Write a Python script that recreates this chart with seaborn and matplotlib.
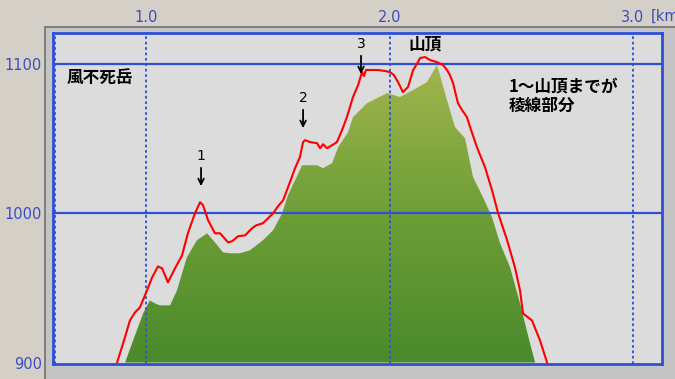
import numpy as np
import pandas as pd
import matplotlib
matplotlib.use("Agg")
import matplotlib.pyplot as plt
import seaborn as sns
from matplotlib.patches import Rectangle, Polygon
from matplotlib.colors import LinearSegmentedColormap

# ---- data (distance km, elevation m) ----
route_km = [0.881, 0.906, 0.934, 0.955, 0.975, 1.004, 1.025, 1.049, 1.066, 1.090,
            1.119, 1.148, 1.172, 1.201, 1.222, 1.234, 1.255, 1.283, 1.304, 1.337,
            1.353, 1.378, 1.407, 1.435, 1.452, 1.480, 1.501, 1.522, 1.542, 1.563,
            1.591, 1.612, 1.632, 1.645, 1.653, 1.674, 1.702, 1.715, 1.727, 1.743,
            1.764, 1.784, 1.805, 1.825, 1.850, 1.871, 1.887, 1.895, 1.903, 1.920,
            1.953, 1.982, 2.002, 2.018, 2.035, 2.055, 2.076, 2.097, 2.117, 2.125,
            2.146, 2.166, 2.195, 2.220, 2.236, 2.248, 2.261, 2.281, 2.298, 2.318,
            2.331, 2.359, 2.392, 2.421, 2.446, 2.483, 2.515, 2.536, 2.548, 2.585,
            2.618, 2.647]
route_m = [900.0, 912.8, 928.2, 933.6, 936.9, 948.3, 957.0, 964.4, 963.1, 953.7,
           963.1, 971.8, 986.6, 1000.0, 1007.4, 1005.4, 995.3, 986.6, 986.6, 980.5,
           981.2, 984.6, 985.2, 989.9, 991.9, 993.3, 996.6, 1000.0, 1004.7, 1008.7,
           1020.8, 1030.2, 1037.6, 1047.7, 1049.0, 1047.7, 1047.0, 1043.6, 1046.3, 1043.6,
           1045.6, 1047.7, 1055.7, 1064.4, 1077.9, 1085.9, 1094.6, 1091.9, 1096.0, 1096.0,
           1096.0, 1095.3, 1094.6, 1092.6, 1087.9, 1081.2, 1084.6, 1096.0, 1101.3, 1104.0,
           1104.7, 1102.7, 1101.3, 1099.3, 1096.0, 1092.6, 1087.2, 1073.8, 1069.1, 1064.4,
           1057.7, 1044.3, 1030.9, 1015.4, 1000.0, 981.9, 963.8, 948.3, 932.9, 928.2,
           914.8, 900.0]

terrain_km = [0.914, 0.947, 0.988, 1.016, 1.037, 1.057, 1.099, 1.127, 1.168, 1.209,
              1.251, 1.283, 1.316, 1.345, 1.386, 1.427, 1.480, 1.522, 1.559, 1.583,
              1.612, 1.641, 1.674, 1.702, 1.727, 1.764, 1.789, 1.830, 1.850, 1.908,
              1.949, 1.990, 2.043, 2.097, 2.154, 2.195, 2.207, 2.236, 2.269, 2.310,
              2.343, 2.384, 2.421, 2.454, 2.495, 2.536, 2.577, 2.598]
terrain_m = [900.0, 914.8, 932.9, 941.6, 939.6, 938.3, 938.3, 948.3, 970.5, 981.9,
             986.6, 980.5, 973.8, 973.2, 973.2, 975.2, 981.9, 988.6, 1000.0, 1012.1,
             1022.1, 1032.2, 1032.2, 1032.2, 1030.2, 1033.6, 1044.3, 1054.4, 1064.4, 1073.8,
             1077.2, 1080.5, 1077.9, 1082.6, 1087.9, 1099.3, 1092.6, 1075.8, 1057.7, 1050.3,
             1024.2, 1010.7, 997.3, 979.9, 963.8, 939.6, 912.8, 900.0]

x_ticks = [1.0, 2.0, 3.0]
x_tick_labels = ["1.0", "2.0", "3.0"]
y_ticks = [900, 1000, 1100]
y_tick_labels = ["900", "1000", "1100"]

markers = ["1", "2", "3"]
marker_km = [1.226, 1.645, 1.883]
marker_m = [1038.3, 1077.2, 1113.4]

# ---- style ----
sns.set_style("white")
plt.rcParams["font.family"] = ["Noto Sans CJK JP", "DejaVu Sans"]
plt.rcParams["text.color"] = "black"

BLUE = "#2f4fd6"
TICKBLUE = "#3a4cc4"
fig = plt.figure(figsize=(6.75, 3.79), dpi=100, facecolor="#d4d0c8")

# raised panel behind plot
W, H = 675.0, 379.0
fig.patches.append(Rectangle((45 / W, 0), 1 - 45 / W, 1 - 27 / H, transform=fig.transFigure,
                             facecolor="#c4c4c4", edgecolor="none", zorder=-2))
fig.lines.append(plt.Line2D([45 / W, 45 / W], [0, 1 - 27 / H], transform=fig.transFigure,
                            color="#707070", lw=1.2, zorder=-1))
fig.lines.append(plt.Line2D([45 / W, 1], [1 - 27 / H, 1 - 27 / H], transform=fig.transFigure,
                            color="#707070", lw=1.2, zorder=-1))

ax = fig.add_axes([53 / W, 15 / H, 609 / W, 331 / H])
ax.set_zorder(1)
ax.set_facecolor("#dcdcdc")
ax.set_xlim(0.618, 3.119)
ax.set_ylim(899.0, 1120.8)

# gradient-filled terrain
cmap = LinearSegmentedColormap.from_list("g", ["#4a8a2b", "#6d9e37", "#a2b54d"])
grad = np.linspace(0, 1, 256).reshape(-1, 1)
im = ax.imshow(grad, cmap=cmap, origin="lower", aspect="auto",
               extent=[0.618, 3.119, 899.0, 1100.0], zorder=1)
poly = Polygon(np.column_stack([terrain_km, terrain_m]), closed=True,
               transform=ax.transData, facecolor="none", edgecolor="none")
ax.add_patch(poly)
im.set_clip_path(poly)

# grid
for yv in y_ticks[1:]:
    ax.axhline(yv, color=BLUE, lw=1.6, zorder=2)
for xv in x_ticks:
    ax.axvline(xv, color=BLUE, lw=1.3, ls=(0, (1.5, 1.5)), zorder=2)
ax.axvline(0.627, color=BLUE, lw=1.3, ls=(0, (1.5, 1.5)), zorder=2)

# route line
df = pd.DataFrame({"km": route_km, "m": route_m})
sns.lineplot(data=df, x="km", y="m", ax=ax, color="#ff0000", lw=1.5, sort=False,
             zorder=3, estimator=None)
ax.set_xlabel("")
ax.set_ylabel("")

# annotations
for lab, xk, ym in zip(markers, marker_km, marker_m):
    ax.text(xk, ym, lab, ha="center", va="center", fontsize=10, color="black",
            family="DejaVu Sans", zorder=5)
    ax.annotate("", xy=(xk, ym - 22), xytext=(xk, ym - 6),
                arrowprops=dict(arrowstyle="->", color="black", lw=1.3,
                                mutation_scale=10), zorder=5)

cjk = dict(fontsize=12, fontweight="bold", color="black", zorder=5)
ax.text(2.146, 1113.4, "山頂", ha="center", va="center", **cjk)
ax.text(0.676, 1090.6, "風不死岳", ha="left", va="center", **cjk)
ax.text(2.49, 1085.2, "1～山頂までが", ha="left", va="center", **cjk)
ax.text(2.49, 1071.8, "稜線部分", ha="left", va="center", **cjk)

# ticks
tickfont = ["DejaVu Sans"]
ax.xaxis.tick_top()
ax.set_xticks(x_ticks)
ax.set_xticklabels(x_tick_labels, color=TICKBLUE, fontsize=10.5, family=tickfont)
ax.set_yticks(y_ticks)
ax.set_yticklabels(y_tick_labels, color=TICKBLUE, fontsize=10.5, family=tickfont)
ax.tick_params(axis="x", length=0, pad=5.5)
ax.tick_params(axis="y", length=0, pad=8)
fig.text(651 / W, 1 - 16 / H, "[km]", ha="left", va="center", color=TICKBLUE,
         fontsize=10.5, family=tickfont)

for s in ax.spines.values():
    s.set_color(BLUE)
    s.set_linewidth(2.0)
    s.set_zorder(4)

fig.savefig("out.png", dpi=100, facecolor=fig.get_facecolor())
